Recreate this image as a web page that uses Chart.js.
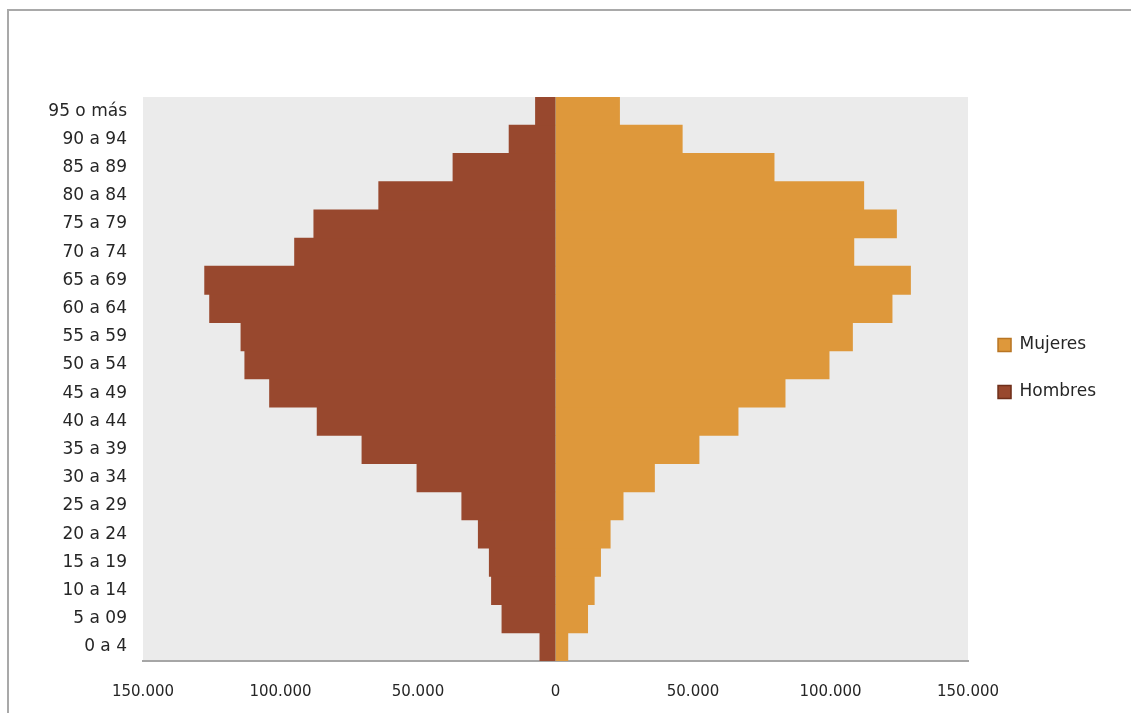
<!DOCTYPE html>
<html>
<head>
<meta charset="utf-8">
<script src="https://cdn.jsdelivr.net/npm/chart.js@4"></script>
<style>
  html, body { margin: 0; padding: 0; background: #fff; overflow: hidden; }
  #wrap { width: 1131px; height: 713px; position: relative; }
</style>
</head>
<body>
<div id="wrap"><canvas id="mainChart" width="1131" height="713"></canvas></div>
<script>
// age groups, bottom to top
const ageGroups = ['0 a 4', '5 a 09', '10 a 14', '15 a 19', '20 a 24', '25 a 29', '30 a 34',
  '35 a 39', '40 a 44', '45 a 49', '50 a 54', '55 a 59', '60 a 64', '65 a 69',
  '70 a 74', '75 a 79', '80 a 84', '85 a 89', '90 a 94', '95 o más'];

const mujeres = [4500, 11700, 14100, 16400, 19900, 24600, 36000, 52200, 66400, 83500,
  99500, 108000, 122400, 129100, 108500, 124000, 112100, 79500, 46100, 23300];
// hombres drawn to the left, so negative
const hombres = [-5700, -19500, -23300, -24100, -28100, -34100, -50400, -70400, -86700, -104000,
  -113000, -114400, -125800, -127600, -94900, -87900, -64300, -37300, -16900, -7300];

const xTicks = [-150000, -100000, -50000, 0, 50000, 100000, 150000];

const colMujeres = '#de983b';
const colHombres = '#98482e';

function fmt(v) {
  return String(Math.abs(v)).replace(/\B(?=(\d{3})+(?!\d))/g, '.');
}

// grey plot background + outer frame
const decor = {
  id: 'decor',
  beforeDraw(chart) {
    const { ctx, chartArea: a } = chart;
    ctx.save();
    ctx.fillStyle = '#ebebeb';
    ctx.fillRect(a.left, a.top, a.right - a.left, a.bottom - a.top);
    ctx.strokeStyle = '#a9a9a9';
    ctx.lineWidth = 2;
    ctx.strokeRect(8, 10, 1300, 900);
    ctx.restore();
  }
};

const ctx = document.getElementById('mainChart').getContext('2d');
const chart = new Chart(ctx, {
  type: 'bar',
  data: {
    labels: ageGroups,
    datasets: [
      { label: 'Mujeres', data: mujeres, backgroundColor: colMujeres, borderWidth: 0 },
      { label: 'Hombres', data: hombres, backgroundColor: colHombres, borderWidth: 0 }
    ]
  },
  options: {
    indexAxis: 'y',
    responsive: false,
    animation: false,
    layout: { padding: { top: 97, left: 40, right: 25, bottom: 0 } },
    datasets: { bar: { barPercentage: 1, categoryPercentage: 1 } },
    scales: {
      x: {
        stacked: true,
        z: 1,
        min: -150000,
        max: 150000,
        afterBuildTicks(scale) { scale.ticks = xTicks.map(v => ({ value: v })); },
        afterFit(scale) { scale.height = 52; },
        grid: {
          drawTicks: false,
          color: c => (c.tick && c.tick.value === 0 ? '#a6a6a6' : 'rgba(0,0,0,0)'),
          lineWidth: 1
        },
        border: { display: true, color: '#a6a6a6', width: 2 },
        ticks: {
          padding: 22,
          color: '#262626',
          font: { family: 'DejaVu Sans', size: 15 },
          callback: v => fmt(v)
        }
      },
      y: {
        stacked: true,
        reverse: true,
        grid: { display: false, drawTicks: false },
        border: { display: false },
        afterFit(scale) { scale.width = 103; },
        ticks: {
          autoSkip: false,
          padding: 16,
          color: '#262626',
          font: { family: 'DejaVu Sans', size: 17 }
        }
      }
    },
    plugins: {
      tooltip: { enabled: false },
      legend: {
        position: 'right',
        align: 'start',
        title: { display: true, text: ' ', padding: { top: 195, bottom: 0 }, font: { size: 12 } },
        labels: {
          color: '#262626',
          font: { family: 'DejaVu Sans', size: 17 },
          boxWidth: 13,
          boxHeight: 13,
          padding: 30,
          generateLabels(ch) {
            return ch.data.datasets.map((d, i) => ({
              text: d.label,
              fillStyle: d.backgroundColor,
              strokeStyle: i === 0 ? '#b87523' : '#6e2e1a',
              fontColor: '#262626',
              lineWidth: 1.5,
              hidden: false,
              datasetIndex: i
            }));
          }
        }
      }
    }
  },
  plugins: [decor]
});
</script>
</body>
</html>
